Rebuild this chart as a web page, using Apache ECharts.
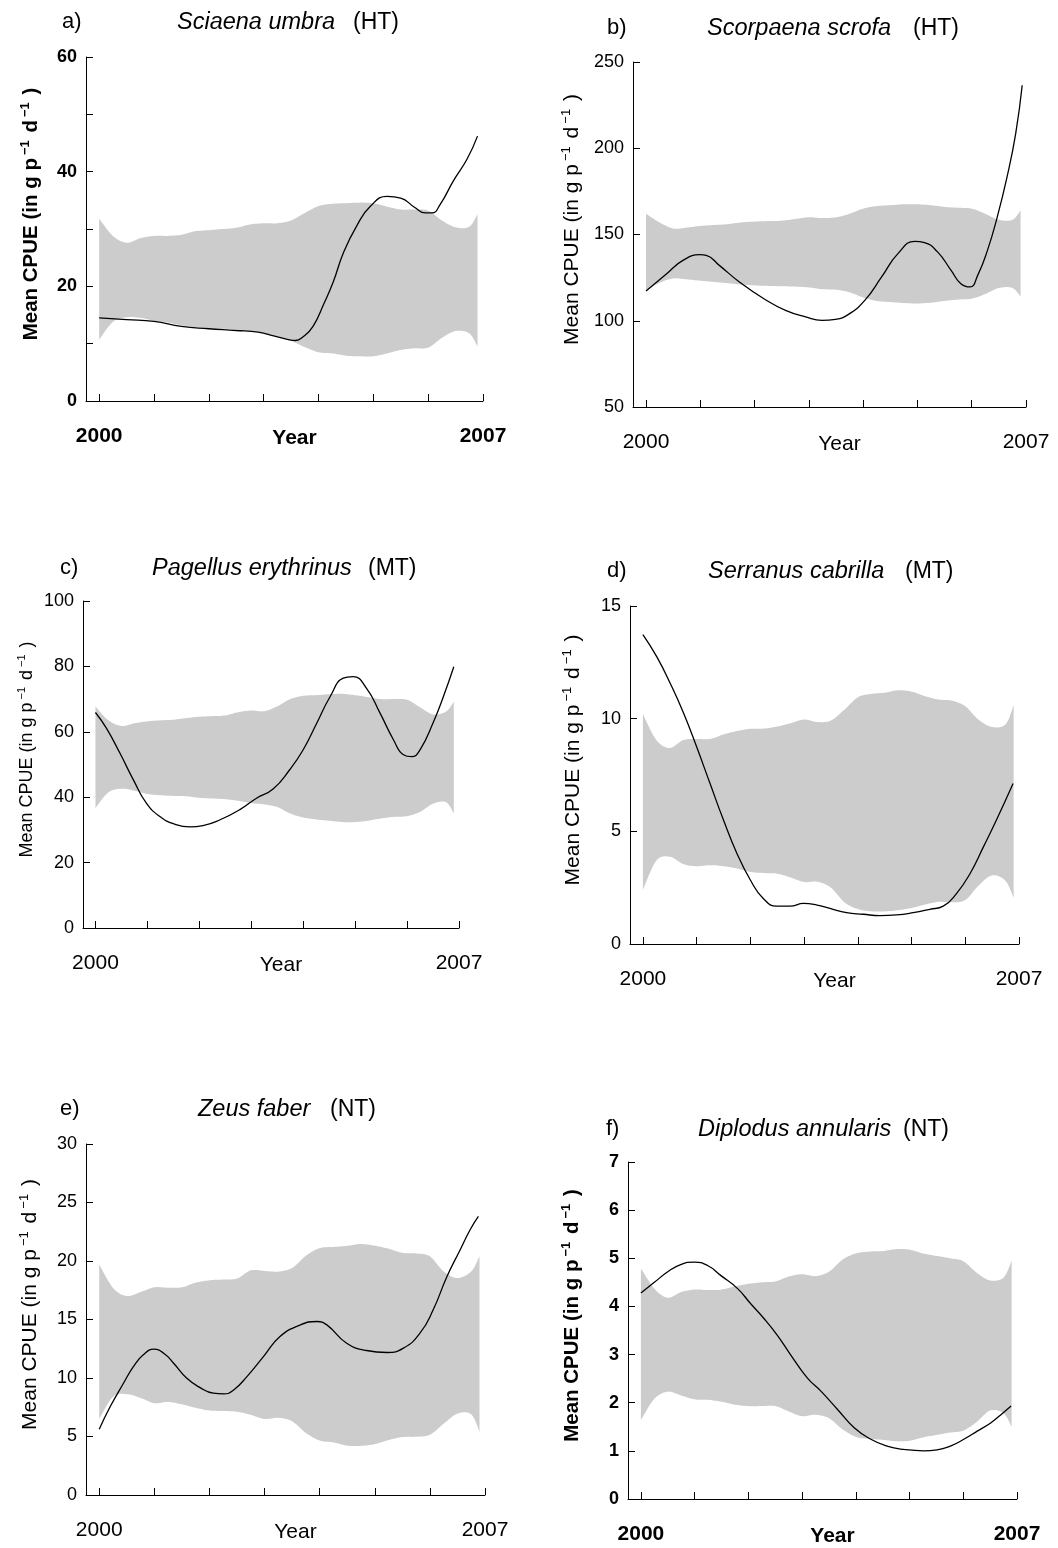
<!DOCTYPE html>
<html>
<head>
<meta charset="utf-8">
<title>Mean CPUE trends 2000–2007</title>
<script src="https://cdn.jsdelivr.net/npm/echarts@6/dist/echarts.min.js"></script>
<style>
  html, body { margin: 0; padding: 0; background: #ffffff; }
  #chart { width: 1058px; height: 1548px; }
</style>
</head>
<body>
<div id="chart"></div>
<script>
// ---- shared x grid for the confidence envelopes ----
const years = [2000, 2000.25, 2000.5, 2000.75, 2001, 2001.25, 2001.5, 2001.75,
  2002, 2002.25, 2002.5, 2002.75, 2003, 2003.25, 2003.5, 2003.75,
  2004, 2004.25, 2004.5, 2004.75, 2005, 2005.25, 2005.5, 2005.75,
  2006, 2006.25, 2006.5, 2006.75, 2006.9];
const yearTicks = [2000, 2001, 2002, 2003, 2004, 2005, 2006, 2007];
const yearLabels = [2000, 2007];

// ---- panel titles ----
const panelLetters = ['a)', 'b)', 'c)', 'd)', 'e)', 'f)'];
const speciesNames = ['Sciaena umbra', 'Scorpaena scrofa', 'Pagellus erythrinus',
  'Serranus cabrilla', 'Zeus faber', 'Diplodus annularis'];
const groupTags = ['(HT)', '(HT)', '(MT)', '(MT)', '(NT)', '(NT)'];

// ---- a) Sciaena umbra ----
const aUpper = [31.8, 28.8, 27.6, 28.4, 28.8, 28.8, 29.0, 29.6, 29.8, 30.0, 30.2, 30.8, 31.0, 31.0,
  31.5, 32.8, 34.0, 34.4, 34.5, 34.6, 34.5, 33.9, 33.4, 33.4, 33.2, 31.5, 30.3, 30.4, 32.6];
const aLower = [10.7, 13.8, 14.6, 14.5, 14.0, 13.7, 13.2, 12.9, 12.7, 12.6, 12.5, 12.2, 11.8, 11.2,
  10.5, 9.4, 8.5, 8.3, 7.9, 7.8, 7.8, 8.3, 8.9, 9.2, 9.3, 11.0, 12.2, 11.8, 9.5];
const aLineX = [2000, 2000.5, 2001, 2001.5, 2002, 2002.5, 2002.9, 2003.2, 2003.45, 2003.58, 2003.72,
  2003.9, 2004.1, 2004.27, 2004.46, 2004.7, 2004.95, 2005.25, 2005.5, 2005.75, 2005.95, 2006.07,
  2006.22, 2006.46, 2006.71, 2006.9];
const aLineY = [14.5, 14.2, 13.9, 13.0, 12.6, 12.3, 12.0, 11.3, 10.7, 10.55, 11.2,
  13.0, 17.0, 20.8, 26.0, 30.6, 34.0, 35.7, 35.4, 33.8, 32.8, 32.8,
  34.3, 38.4, 42.2, 46.2];
const aYTicks = [0, 10, 20, 30, 40, 50, 60];
const aYLabels = [0, 20, 40, 60];

// ---- b) Scorpaena scrofa ----
const bUpper = [162, 157, 153.5, 154, 155, 155.5, 156, 157, 157.5, 157.8, 158, 159, 160, 159.5,
  160, 162, 165, 166.5, 167, 167.5, 167.5, 167, 166, 165.5, 165, 162, 158.5, 158.5, 164];
const bLower = [117.5, 122, 124.5, 124, 123.2, 122.5, 121.8, 121, 120.5, 120.2, 120, 119.8, 119.3, 118.3,
  118, 116.5, 113.5, 111.5, 110.8, 110.3, 110, 110.5, 111.5, 112.3, 112.8, 115.5, 119, 119, 114];
const bLineX = [2000, 2000.38, 2000.68, 2000.99, 2001.11, 2001.35, 2001.72, 2002.2, 2002.57, 2002.94,
  2003.24, 2003.49, 2003.73, 2004.03, 2004.34, 2004.64, 2004.95, 2005.13, 2005.37, 2005.62, 2005.8,
  2005.97, 2006.11, 2006.29, 2006.47, 2006.65, 2006.81, 2006.93];
const bLineY = [117.2, 127.3, 135.0, 138.3, 137.9, 132.1, 122.5, 112.2, 106.0, 102.2,
  100.2, 100.8, 103.7, 111.8, 125.4, 138.9, 146.0, 145.3, 139.9, 129.2, 121.5,
  119.6, 126.3, 140.8, 160.1, 183.3, 208.5, 236.5];
const bYTicks = [50, 100, 150, 200, 250];

// ---- c) Pagellus erythrinus ----
const cUpper = [67.7, 63.5, 61.8, 62.6, 63.2, 63.5, 63.7, 64.2, 64.6, 64.8, 65.0, 66.0, 66.5, 66.3,
  67.8, 70.0, 71.0, 71.2, 71.5, 71.6, 71.2, 70.6, 70.0, 70.0, 69.8, 67.5, 65.3, 66.2, 69.2];
const cLower = [36.7, 41.5, 42.6, 42.0, 41.0, 40.6, 40.4, 40.3, 39.8, 39.6, 39.4, 38.9, 38.2, 37.8,
  37.0, 35.0, 33.8, 33.2, 32.8, 32.4, 32.4, 32.8, 33.5, 34.0, 34.2, 35.5, 38.0, 38.5, 35.0];
const cLineX = [2000, 2000.21, 2000.47, 2000.73, 2000.98, 2001.24, 2001.5, 2001.82, 2002.07, 2002.4,
  2002.78, 2003.1, 2003.42, 2003.74, 2004.0, 2004.26, 2004.52, 2004.77, 2004.96, 2005.22, 2005.48,
  2005.74, 2005.93, 2006.09, 2006.25, 2006.51, 2006.7, 2006.9];
const cLineY = [65.9, 61.1, 53.5, 45.3, 38.2, 34.1, 31.9, 30.9, 31.3, 33.1,
  36.2, 39.7, 42.5, 48.4, 54.5, 62.6, 70.8, 76.4, 76.9, 73.3, 65.7,
  57.5, 53.0, 52.4, 54.5, 63.1, 70.8, 79.9];
const cYTicks = [0, 20, 40, 60, 80, 100];

// ---- d) Serranus cabrilla ----
const dUpper = [10.2, 9.05, 8.7, 9.05, 9.1, 9.1, 9.3, 9.45, 9.55, 9.56, 9.65, 9.8, 9.96, 9.85,
  9.92, 10.4, 10.95, 11.1, 11.15, 11.26, 11.2, 11.0, 10.85, 10.8, 10.55, 9.95, 9.63, 9.75, 10.6];
const dLower = [2.4, 3.7, 3.87, 3.55, 3.45, 3.5, 3.45, 3.35, 3.2, 3.15, 3.12, 2.95, 2.75, 2.76,
  2.5, 1.85, 1.55, 1.45, 1.45, 1.5, 1.6, 1.75, 1.87, 1.85, 1.95, 2.6, 3.05, 2.8, 2.05];
const dLineX = [2000, 2000.26, 2000.51, 2000.76, 2001.0, 2001.25, 2001.5, 2001.75, 2002.0, 2002.24,
  2002.49, 2002.74, 2002.99, 2003.24, 2003.48, 2003.79, 2004.1, 2004.41, 2004.72, 2005.03, 2005.34,
  2005.59, 2005.84, 2006.09, 2006.34, 2006.58, 2006.89];
const dLineY = [13.73, 12.74, 11.56, 10.23, 8.75, 7.12, 5.50, 4.02, 2.84, 2.02,
  1.68, 1.68, 1.80, 1.73, 1.58, 1.39, 1.32, 1.26, 1.29, 1.39, 1.54,
  1.68, 2.25, 3.13, 4.32, 5.50, 7.12];
const dYTicks = [0, 5, 10, 15];

// ---- e) Zeus faber ----
const eUpper = [19.7, 17.7, 17.0, 17.35, 17.75, 17.72, 17.75, 18.15, 18.35, 18.42, 18.5, 19.2, 19.15, 19.1,
  19.4, 20.45, 21.1, 21.2, 21.3, 21.45, 21.3, 21.05, 20.7, 20.65, 20.4, 19.1, 18.55, 19.1, 20.4];
const eLower = [6.5, 8.4, 8.62, 8.3, 7.85, 7.95, 7.75, 7.45, 7.22, 7.18, 7.12, 6.85, 6.5, 6.6,
  6.3, 5.3, 4.65, 4.5, 4.22, 4.2, 4.35, 4.7, 4.95, 4.98, 5.15, 6.1, 6.95, 6.9, 5.4];
const eLineX = [2000, 2000.2, 2000.44, 2000.62, 2000.8, 2000.99, 2001.17, 2001.35, 2001.59, 2001.83,
  2002.07, 2002.26, 2002.44, 2002.68, 2002.98, 2003.28, 2003.65, 2003.95, 2004.13, 2004.49, 2004.85,
  2005.22, 2005.52, 2005.82, 2006.06, 2006.31, 2006.55, 2006.73, 2006.88];
const eLineY = [5.62, 7.56, 9.55, 10.98, 11.98, 12.46, 12.12, 11.26, 9.98, 9.18,
  8.70, 8.64, 8.98, 10.12, 11.83, 13.54, 14.54, 14.83, 14.54, 12.97, 12.35,
  12.18, 12.55, 13.83, 15.83, 18.68, 20.96, 22.67, 23.81];
const eYTicks = [0, 5, 10, 15, 20, 25, 30];

// ---- f) Diplodus annularis ----
const fUpper = [4.79, 4.37, 4.18, 4.3, 4.35, 4.34, 4.35, 4.42, 4.47, 4.50, 4.52, 4.62, 4.67, 4.63,
  4.72, 4.97, 5.10, 5.14, 5.15, 5.19, 5.18, 5.1, 5.05, 5.0, 4.94, 4.7, 4.54, 4.6, 4.95];
const fLower = [1.64, 2.08, 2.23, 2.15, 2.07, 2.06, 2.02, 1.96, 1.93, 1.93, 1.93, 1.82, 1.72, 1.75,
  1.68, 1.45, 1.29, 1.25, 1.23, 1.2, 1.21, 1.28, 1.33, 1.38, 1.42, 1.6, 1.84, 1.78, 1.5];
const fLineX = [2000, 2000.25, 2000.5, 2000.74, 2000.99, 2001.24, 2001.49, 2001.8, 2002.04, 2002.29,
  2002.54, 2002.79, 2003.1, 2003.35, 2003.66, 2003.97, 2004.28, 2004.58, 2004.89, 2005.27, 2005.51,
  2005.76, 2006.01, 2006.26, 2006.51, 2006.69, 2006.89];
const fLineY = [4.28, 4.50, 4.72, 4.87, 4.92, 4.85, 4.64, 4.37, 4.06, 3.75,
  3.40, 2.99, 2.51, 2.24, 1.86, 1.48, 1.24, 1.10, 1.03, 1.00, 1.02,
  1.10, 1.24, 1.41, 1.58, 1.74, 1.93];
const fYTicks = [0, 1, 2, 3, 4, 5, 6, 7];

// ---- drawing ----
const FONT = "'Liberation Sans', Arial, Helvetica, sans-serif";
const BAND = '#cccccc';

const panels = [
  { upper: aUpper, lower: aLower, lx: aLineX, ly: aLineY, yTicks: aYTicks, yLabels: aYLabels,
    grid: { left: 86, top: 57, width: 397, height: 344 }, bold: true, nameSize: 20.5, nameGap: 42,
    title: { y: 18, letter: 57, species: 172, tag: 348 } },
  { upper: bUpper, lower: bLower, lx: bLineX, ly: bLineY, yTicks: bYTicks, yLabels: bYTicks,
    grid: { left: 633, top: 62, width: 393, height: 345 }, bold: false, nameSize: 21, nameGap: 48,
    title: { y: 24, letter: 602, species: 702, tag: 908 } },
  { upper: cUpper, lower: cLower, lx: cLineX, ly: cLineY, yTicks: cYTicks, yLabels: cYTicks,
    grid: { left: 83, top: 601, width: 376, height: 327 }, bold: false, nameSize: 18, nameGap: 45,
    title: { y: 564, letter: 55, species: 147, tag: 363 } },
  { upper: dUpper, lower: dLower, lx: dLineX, ly: dLineY, yTicks: dYTicks, yLabels: dYTicks,
    grid: { left: 630, top: 606, width: 389, height: 338 }, bold: false, nameSize: 21, nameGap: 44,
    title: { y: 567, letter: 602, species: 703, tag: 900 } },
  { upper: eUpper, lower: eLower, lx: eLineX, ly: eLineY, yTicks: eYTicks, yLabels: eYTicks,
    grid: { left: 86, top: 1144, width: 399, height: 351 }, bold: false, nameSize: 21, nameGap: 43,
    title: { y: 1105, letter: 55, species: 193, tag: 325 } },
  { upper: fUpper, lower: fLower, lx: fLineX, ly: fLineY, yTicks: fYTicks, yLabels: fYTicks,
    grid: { left: 628, top: 1162, width: 389, height: 340 }, bold: true, nameSize: 20.5, nameGap: 43,
    title: { y: 1125, letter: 601, species: 693, tag: 898 } }
];

// Catmull-Rom spline through pixel points, returned as a dense point list
function splinePoints(pts, steps) {
  const out = [pts[0]];
  const n = pts.length;
  for (let k = 0; k < n - 1; k++) {
    const p0 = pts[Math.max(k - 1, 0)], p1 = pts[k], p2 = pts[k + 1], p3 = pts[Math.min(k + 2, n - 1)];
    const c1 = [p1[0] + (p2[0] - p0[0]) / 6, p1[1] + (p2[1] - p0[1]) / 6];
    const c2 = [p2[0] - (p3[0] - p1[0]) / 6, p2[1] - (p3[1] - p1[1]) / 6];
    for (let s = 1; s <= steps; s++) {
      const t = s / steps, u = 1 - t;
      const a = u * u * u, b = 3 * u * u * t, c = 3 * u * t * t, d = t * t * t;
      out.push([a * p1[0] + b * c1[0] + c * c2[0] + d * p2[0],
                a * p1[1] + b * c1[1] + c * c2[1] + d * p2[1]]);
    }
  }
  return out;
}

// confidence envelope drawn as one filled shape between the lower and upper bounds
function bandRenderer(p) {
  return function (params, api) {
    if (params.dataIndex !== 0) return null;
    const up = years.map((x, j) => api.coord([x, p.upper[j]]));
    const lo = years.map((x, j) => api.coord([x, p.lower[j]])).reverse();
    const points = splinePoints(up, 10).concat(splinePoints(lo, 10));
    return { type: 'polygon', shape: { points: points }, style: { fill: BAND, stroke: null } };
  };
}

const grids = [], xAxes = [], yAxes = [], series = [], titles = [];

panels.forEach((p, i) => {
  const weight = p.bold ? 'bold' : 'normal';
  grids.push(Object.assign({ containLabel: false }, p.grid));

  xAxes.push({
    type: 'value', gridIndex: i, min: 1999.76, max: 2007,
    name: 'Year', nameLocation: 'middle', nameGap: 27, nameMoveOverlap: false,
    nameTextStyle: { fontFamily: FONT, fontSize: 21, color: '#000', fontWeight: weight,
      padding: [0, 0, 0, 20] },
    axisLine: { show: true, onZero: false, lineStyle: { color: '#000', width: 1 } },
    axisTick: { show: true, inside: true, length: 7, customValues: yearTicks,
      lineStyle: { color: '#000', width: 1 } },
    axisLabel: { show: true, customValues: yearLabels, margin: 25, fontFamily: FONT,
      fontSize: 21, color: '#000', fontWeight: weight, formatter: v => String(v) },
    splitLine: { show: false }
  });

  const yMin = p.yTicks[0], yMax = p.yTicks[p.yTicks.length - 1];
  yAxes.push({
    type: 'value', gridIndex: i, min: yMin, max: yMax,
    name: '{t|Mean CPUE (in g p}{s|−1}{t| d}{s|−1}{t| )}',
    nameLocation: 'middle', nameRotate: 90, nameGap: p.nameGap, nameMoveOverlap: false,
    nameTextStyle: {
      padding: [0, 0, 0, 30],
      rich: {
        t: { fontFamily: FONT, fontSize: p.nameSize, color: '#000', fontWeight: weight,
          lineHeight: Math.round(p.nameSize * 1.2) },
        s: { fontFamily: FONT, fontSize: Math.round(p.nameSize * 0.62), color: '#000',
          fontWeight: weight, verticalAlign: 'top', lineHeight: Math.round(p.nameSize * 0.62),
          padding: [0, 2, 0, 3] }
      }
    },
    axisLine: { show: true, lineStyle: { color: '#000', width: 1 } },
    axisTick: { show: true, inside: true, length: 7, customValues: p.yTicks,
      lineStyle: { color: '#000', width: 1 } },
    axisLabel: { show: true, customValues: p.yLabels, margin: 9, fontFamily: FONT,
      fontSize: 18, color: '#000', fontWeight: weight },
    splitLine: { show: false }
  });

  series.push({
    type: 'custom', coordinateSystem: 'cartesian2d', xAxisIndex: i, yAxisIndex: i,
    silent: true, z: 1, clip: false,
    encode: { x: 0, y: [1, 2] },
    data: years.map((x, j) => [x, p.lower[j], p.upper[j]]),
    renderItem: bandRenderer(p)
  });
  // fitted mean CPUE curve
  series.push({
    type: 'line', xAxisIndex: i, yAxisIndex: i, smooth: 0.5, symbol: 'none', silent: true,
    lineStyle: { color: '#000', width: 1.3 }, z: 5,
    data: p.lx.map((x, j) => [x, p.ly[j]])
  });

  const tTop = p.title.y - 12;
  titles.push({ text: panelLetters[i], left: p.title.letter, top: tTop,
    textStyle: { fontFamily: FONT, fontSize: 22, fontWeight: 'normal', color: '#000' } });
  titles.push({ text: speciesNames[i], left: p.title.species, top: tTop,
    textStyle: { fontFamily: FONT, fontSize: 23.5, fontStyle: 'italic', fontWeight: 'normal', color: '#000' } });
  titles.push({ text: groupTags[i], left: p.title.tag, top: tTop,
    textStyle: { fontFamily: FONT, fontSize: 23, fontWeight: 'normal', color: '#000' } });
});

const chart = echarts.init(document.getElementById('chart'), null, { renderer: 'canvas' });
chart.setOption({
  backgroundColor: '#ffffff',
  animation: false,
  title: titles,
  grid: grids,
  xAxis: xAxes,
  yAxis: yAxes,
  series: series
});
</script>
</body>
</html>
